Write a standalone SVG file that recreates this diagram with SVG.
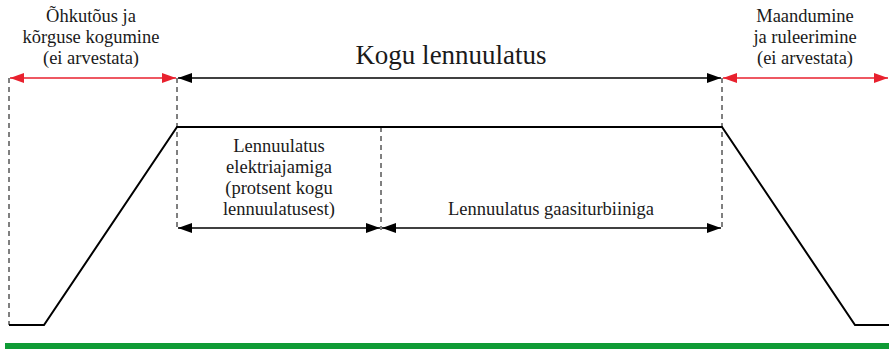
<svg xmlns="http://www.w3.org/2000/svg" width="889" height="349" viewBox="0 0 889 349">
<style>
.dash{stroke:#000;stroke-width:1;stroke-dasharray:5,4;fill:none}
.blk{stroke:#000;stroke-width:1.3;fill:none}
.red{stroke:#e8212e;stroke-width:1.3;fill:none}
</style>
<defs>
<marker id="ab" viewBox="0 0 14 10" refX="14" refY="5" markerWidth="14" markerHeight="10" markerUnits="userSpaceOnUse" orient="auto-start-reverse"><path d="M0,0L14,5L0,10Z" fill="#000"/></marker>
<marker id="ar" viewBox="0 0 14 10" refX="14" refY="5" markerWidth="14" markerHeight="10" markerUnits="userSpaceOnUse" orient="auto-start-reverse"><path d="M0,0L14,5L0,10Z" fill="#e8212e"/></marker>
</defs>
<g id="profile">
<polyline points="9,325 44,325 177,127 722,127 855,325 889,325" fill="none" stroke="#000" stroke-width="2"/>
</g>
<g id="connectors">
<line class="dash" x1="9" y1="78" x2="9" y2="325"/>
<line class="dash" x1="177" y1="78" x2="177" y2="230"/>
<line class="dash" x1="722" y1="78" x2="722" y2="230"/>
<line class="dash" x1="381" y1="127" x2="381" y2="230"/>
<line class="red" x1="10" y1="78" x2="176" y2="78" marker-start="url(#ar)" marker-end="url(#ar)"/>
<line class="blk" x1="178" y1="78" x2="721" y2="78" marker-start="url(#ab)" marker-end="url(#ab)"/>
<line class="red" x1="723" y1="78" x2="888" y2="78" marker-start="url(#ar)" marker-end="url(#ar)"/>
<line class="blk" x1="178" y1="228" x2="380" y2="228" marker-start="url(#ab)" marker-end="url(#ab)"/>
<line class="blk" x1="382" y1="228" x2="721" y2="228" marker-start="url(#ab)" marker-end="url(#ab)"/>
</g>
<g id="takeoff">
<text x="91" y="22" font-family="'Liberation Serif', serif" font-size="18.5" text-anchor="middle" fill="#1a1a1a">Õhkutõus ja</text>
<text x="91" y="43" font-family="'Liberation Serif', serif" font-size="18.5" text-anchor="middle" fill="#1a1a1a">kõrguse kogumine</text>
<text x="91" y="64" font-family="'Liberation Serif', serif" font-size="18.5" text-anchor="middle" fill="#1a1a1a">(ei arvestata)</text>
</g>
<g id="total">
<text x="451" y="64" font-family="'Liberation Serif', serif" font-size="27" text-anchor="middle" fill="#1a1a1a">Kogu lennuulatus</text>
</g>
<g id="landing">
<text x="805" y="22" font-family="'Liberation Serif', serif" font-size="18.5" text-anchor="middle" fill="#1a1a1a">Maandumine</text>
<text x="805" y="43" font-family="'Liberation Serif', serif" font-size="18.5" text-anchor="middle" fill="#1a1a1a">ja ruleerimine</text>
<text x="805" y="64" font-family="'Liberation Serif', serif" font-size="18.5" text-anchor="middle" fill="#1a1a1a">(ei arvestata)</text>
</g>
<g id="electric">
<text x="279" y="152" font-family="'Liberation Serif', serif" font-size="18.5" text-anchor="middle" fill="#1a1a1a">Lennuulatus</text>
<text x="279" y="173" font-family="'Liberation Serif', serif" font-size="18.5" text-anchor="middle" fill="#1a1a1a">elektriajamiga</text>
<text x="279" y="194" font-family="'Liberation Serif', serif" font-size="18.5" text-anchor="middle" fill="#1a1a1a">(protsent kogu</text>
<text x="279" y="215" font-family="'Liberation Serif', serif" font-size="18.5" text-anchor="middle" fill="#1a1a1a">lennuulatusest)</text>
</g>
<g id="turbine">
<text x="551" y="215" font-family="'Liberation Serif', serif" font-size="18.5" text-anchor="middle" fill="#1a1a1a">Lennuulatus gaasiturbiiniga</text>
</g>
<g id="ground">
<rect x="5" y="343" width="884" height="6" fill="#0f9b35"/>
</g>
</svg>
